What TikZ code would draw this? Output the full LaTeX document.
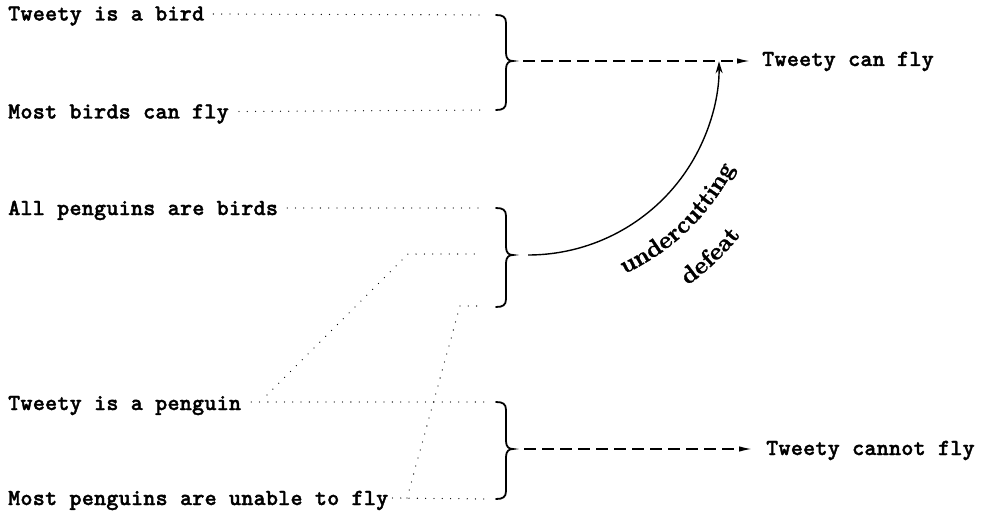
\documentclass[tikz,border=0pt]{standalone}
\usepackage{fontspec}
\usetikzlibrary{arrows.meta,decorations.text}
\newfontfamily\labelfont{lmmonolt10-bold.otf}[LetterSpace=1,FakeBold=1.6]
\newfontfamily\arcfamily{lmroman10-bold.otf}[FakeBold=1.2]
\newcommand\arcfont{\arcfamily\fontsize{24}{28}\selectfont}

% curly brace joining premises: name, top y, tip y, bottom y
\newcommand\curlybrace[4]{%
  \coordinate (#1-top) at (496,-#2);
  \coordinate (#1-tip) at (513,-#3);
  \coordinate (#1-bot) at (496,-#4);
  \draw[bracepen] (#1-top) .. controls +(7,0) and +(0,6) .. (506,{-#2-8})
    -- (506,{-#3+8}) .. controls +(0,-6) and +(-4,0) .. (#1-tip)
    .. controls +(-4,0) and +(0,6) .. (506,{-#3-8})
    -- (506,{-#4+8}) .. controls +(0,-6) and +(7,0) .. (#1-bot);
}

\tikzset{
  premise/.style={anchor=base west, inner sep=0pt, font={\labelfont\fontsize{23}{27}\selectfont}},
  dots/.style={line width=1.3pt, line cap=round, dash pattern=on 0pt off 8.3pt},
  bracepen/.style={line width=1.8pt, line cap=round},
  infer/.style={line width=1.5pt, dash pattern=on 12pt off 6pt, -{Latex[length=13pt,width=5.5pt]}},
  defeater/.style={line width=1.4pt, -{Stealth[length=12pt,width=7pt]}},
}

\begin{document}
\begin{tikzpicture}[x=1pt,y=1pt]
\fill[white] (0,0) rectangle (988,-516);
\useasboundingbox (0,0) rectangle (988,-516);

% premises
\node[premise] (t1) at (8,-20.5) {Tweety is a bird};
\node[premise] (t2) at (8,-118.5) {Most birds can fly};
\node[premise] (t3) at (8,-215) {All penguins are birds};
\node[premise] (t4) at (8,-410) {Tweety is a penguin};
\node[premise] (t5) at (8,-505) {Most penguins are unable to fly};

% braces
\curlybrace{b1}{15}{61}{110}
\curlybrace{b2}{208}{255}{307}
\curlybrace{b3}{402}{449}{499}

% premises into braces
\draw[dots] ([shift={(9,6.5)}]t1.base east) -- ([xshift=-9pt]b1-top);
\draw[dots] ([shift={(10,7)}]t2.base east) -- ([xshift=-12pt]b1-bot);
\draw[dots] ([shift={(9,7)}]t3.base east) -- ([xshift=-12pt]b2-top);
\draw[dots] ([shift={(10,8)}]t4.base east) -- ([xshift=-10pt]b3-top);
\draw[dots] ([shift={(4,7)}]t5.base east) -- ([xshift=-9pt]b3-bot);

% penguin premises reused for the undercutting defeater
\coordinate (pa1) at (267,-395);
\coordinate (pa2) at (408,-254);
\coordinate (pa3) at (478,-254);
\draw[dots] (pa1) -- (pa2) -- (pa3);
\coordinate (pb1) at (407,-498);
\coordinate (pb2) at (460,-306);
\coordinate (pb3) at (484,-306);
\draw[dots] (pb1) -- (pb2) -- (pb3);

% conclusions
\coordinate (e1) at (750,-61);
\draw[infer] ([xshift=10pt]b1-tip) -- (e1);
\node[premise] (c1) at (762,-66) {Tweety can fly};
\coordinate (e3) at (752,-449);
\draw[infer] ([xshift=11pt]b3-tip) -- (e3);
\node[premise] (c3) at (766,-455) {Tweety cannot fly};

% undercutting defeat
\coordinate (cs) at (528,-255);
\draw[defeater] (cs) arc[start angle=-90, end angle=0.8, radius=191];
\path[decorate, decoration={text along path, text align=center, text={|\arcfont|undercutting}}]
  ([shift={(-70:231)}]528,-64) arc[start angle=-70, end angle=-22, radius=231];
\path[decorate, decoration={text along path, text align=center, text={|\arcfont|defeat}}]
  ([shift={(-62:273)}]528,-64) arc[start angle=-62, end angle=-31, radius=273];
\end{tikzpicture}
\end{document}
